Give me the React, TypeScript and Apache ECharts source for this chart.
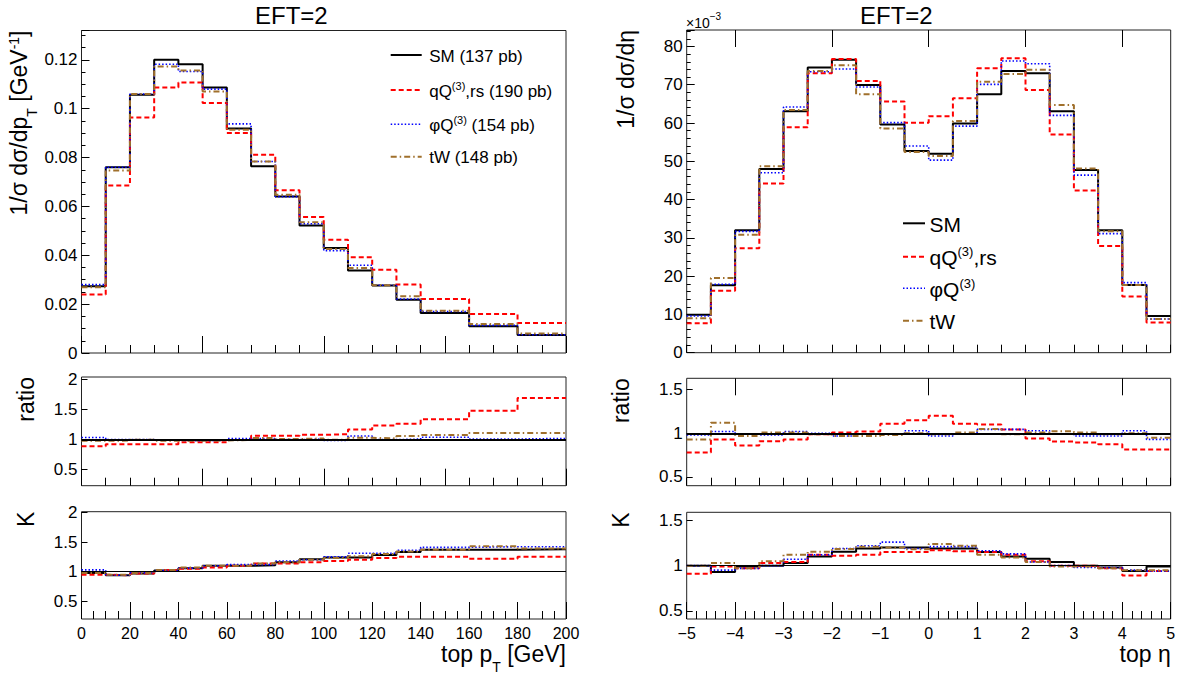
import { useEffect, useRef } from "react";
import * as echarts from "echarts";

// top pT binning (variable width above 140 GeV)
const ptEdges = [0, 10, 20, 30, 40, 50, 60, 70, 80, 90, 100, 110, 120, 130, 140, 160, 180, 200];
const ptSM = [0.0273, 0.076, 0.1057, 0.12, 0.1182, 0.1087, 0.0919, 0.0764, 0.0641, 0.0522, 0.043, 0.0338, 0.0276, 0.0218, 0.0164, 0.0109, 0.0074];
const ptQQ = [0.0239, 0.0686, 0.0964, 0.1087, 0.1107, 0.1023, 0.09, 0.0811, 0.0666, 0.0557, 0.0464, 0.0392, 0.0341, 0.028, 0.0221, 0.016, 0.0123];
const ptPhi = [0.028, 0.076, 0.106, 0.1182, 0.1152, 0.108, 0.0938, 0.0784, 0.064, 0.0529, 0.0419, 0.0359, 0.0277, 0.0221, 0.017, 0.0113, 0.0075];
const ptTW = [0.0269, 0.0747, 0.106, 0.1173, 0.1156, 0.107, 0.0914, 0.0784, 0.0648, 0.0535, 0.0426, 0.0348, 0.0277, 0.0232, 0.0173, 0.0119, 0.008];

const ptRatioQQ = [0.89, 0.925, 0.925, 0.925, 0.955, 0.955, 0.995, 1.065, 1.065, 1.08, 1.09, 1.17, 1.235, 1.265, 1.34, 1.48, 1.69];
const ptRatioPhi = [1.035, 1.0, 1.0, 0.99, 0.98, 0.99, 1.02, 1.02, 1.0, 1.01, 0.985, 1.06, 1.0, 1.01, 1.04, 1.01, 1.02];
const ptRatioTW = [0.98, 0.985, 1.0, 0.98, 0.98, 0.985, 0.995, 1.025, 1.01, 1.02, 1.0, 1.03, 1.02, 1.06, 1.075, 1.11, 1.11];

const ptKSM = [0.98, 0.94, 0.97, 1.02, 1.06, 1.1, 1.1, 1.11, 1.16, 1.21, 1.24, 1.24, 1.28, 1.33, 1.37, 1.37, 1.38];
const ptKQQ = [0.95, 0.94, 0.97, 1.03, 1.05, 1.07, 1.1, 1.14, 1.14, 1.16, 1.18, 1.2, 1.23, 1.25, 1.25, 1.22, 1.25];
const ptKPhi = [1.03, 0.94, 0.98, 1.02, 1.06, 1.1, 1.12, 1.12, 1.18, 1.2, 1.25, 1.31, 1.31, 1.36, 1.41, 1.42, 1.42];
const ptKTW = [0.98, 0.95, 0.98, 1.03, 1.07, 1.1, 1.1, 1.14, 1.16, 1.2, 1.23, 1.26, 1.3, 1.34, 1.37, 1.43, 1.39];

// top eta binning, values of 1/sigma dsigma/deta in units of 1e-3
const etaEdges = [-5, -4.5, -4, -3.5, -3, -2.5, -2, -1.5, -1, -0.5, 0, 0.5, 1, 1.5, 2, 2.5, 3, 3.5, 4, 4.5, 5];
const etaSM = [9.9, 17.6, 32.0, 48.0, 63.1, 74.5, 76.5, 69.9, 59.6, 52.7, 52.0, 59.9, 67.5, 73.6, 73.0, 63.1, 47.7, 32.0, 17.7, 9.6];
const etaQQ = [7.7, 16.2, 27.3, 44.2, 58.9, 73.0, 76.7, 71.0, 65.6, 60.1, 61.8, 66.5, 74.3, 76.9, 68.6, 57.0, 42.4, 27.9, 14.7, 7.9];
const etaPhi = [9.6, 17.9, 31.7, 47.0, 64.2, 73.4, 74.1, 69.4, 60.1, 54.0, 50.3, 59.2, 70.1, 76.2, 75.5, 62.0, 46.4, 31.1, 18.3, 8.8];
const etaTW = [9.0, 19.5, 30.8, 48.7, 63.4, 73.6, 75.1, 67.5, 58.6, 52.4, 51.4, 60.5, 70.8, 72.8, 73.9, 64.7, 48.1, 31.7, 17.7, 8.8];

const etaRatioQQ = [0.78, 0.93, 0.86, 0.91, 0.93, 0.99, 1.01, 1.02, 1.11, 1.15, 1.2, 1.11, 1.1, 1.045, 0.94, 0.905, 0.895, 0.875, 0.815, 0.815];
const etaRatioPhi = [0.98, 1.02, 0.99, 0.98, 1.02, 1.0, 0.97, 0.99, 0.99, 1.03, 0.97, 0.99, 1.045, 1.045, 1.03, 0.99, 0.97, 0.97, 1.03, 0.93];
const etaRatioTW = [0.93, 1.12, 0.97, 1.01, 1.01, 0.99, 0.97, 0.97, 0.98, 1.0, 0.99, 1.01, 1.05, 0.99, 1.01, 1.025, 1.01, 0.99, 1.0, 0.95];

const etaKSM = [1.0, 0.93, 0.99, 1.0, 1.03, 1.1, 1.155, 1.19, 1.2, 1.2, 1.19, 1.19, 1.15, 1.1, 1.075, 1.04, 1.0, 0.98, 0.94, 0.99];
const etaKQQ = [0.91, 0.99, 0.97, 1.03, 1.04, 1.12, 1.11, 1.12, 1.15, 1.15, 1.17, 1.16, 1.15, 1.12, 1.05, 1.0, 1.0, 0.97, 0.89, 0.94];
const etaKPhi = [1.0, 0.95, 0.97, 1.0, 1.07, 1.12, 1.19, 1.22, 1.26, 1.19, 1.21, 1.21, 1.165, 1.13, 1.04, 1.0, 0.98, 0.98, 0.95, 0.94];
const etaKTW = [1.0, 1.03, 0.97, 1.05, 1.12, 1.155, 1.185, 1.21, 1.2, 1.18, 1.24, 1.22, 1.12, 1.09, 1.04, 0.99, 0.99, 0.97, 0.95, 0.95];

const ratioTicks = [0.5, 1, 1.5, 2];
const ratioTicksEta = [0.5, 1, 1.5];
const etaMajorTicks = [-4, -2, 0, 2, 4];

const FONT = "'Liberation Sans', Arial, Helvetica, sans-serif";
const RED = "#ff0000";
const BLUE = "#0000ff";
const BROWN = "#a0702c";

const lineStyles: Record<string, any> = {
  SM: { color: "#000", width: 2, type: "solid" },
  qQ: { color: RED, width: 2, type: [5, 3] },
  phiQ: { color: BLUE, width: 1.6, type: [1.5, 2] },
  tW: { color: BROWN, width: 2, type: [6, 3, 1.5, 3] },
};

// bin contents -> points at bin edges, drawn with step: "end"
function toSteps(edges: number[], vals: number[]) {
  const pts = vals.map((v, i) => [edges[i], v]);
  pts.push([edges[edges.length - 1], vals[vals.length - 1]]);
  return pts;
}

function hist(name: string, edges: number[], vals: number[], axis: number, extra: any = {}) {
  const ls = lineStyles[name];
  return {
    type: "line",
    name,
    step: "end",
    symbol: "none",
    silent: true,
    xAxisIndex: axis,
    yAxisIndex: axis,
    data: toSteps(edges, vals),
    lineStyle: { ...ls },
    itemStyle: { color: ls.color },
    ...extra,
  };
}

const refLine = (width: number) => ({
  silent: true,
  symbol: "none",
  label: { show: false },
  lineStyle: { color: "#000", width, type: "solid" },
  data: [{ yAxis: 1 }],
});

const L = { left: 81.5, width: 484.5 };
const R = { left: 686.7, width: 484 };

const noLabel = { show: false };
const noLine = { show: false, onZero: false };
const tick = (length: number, extra: any = {}) => ({ show: true, inside: true, length, lineStyle: { color: "#000" }, ...extra });
const minor = (splitNumber: number, length: number) => ({ show: true, splitNumber, length, lineStyle: { color: "#000" } });
const yLabel = (extra: any = {}) => ({ fontSize: 17, color: "#000", margin: 4, fontFamily: FONT, ...extra });

const title = { fontSize: 23, fontFamily: FONT, fill: "#000" };
const richTitle = {
  t: { fontSize: 23, lineHeight: 50, fontFamily: FONT },
  sb: { fontSize: 14, verticalAlign: "bottom", padding: [0, 0, 5, 0], fontFamily: FONT },
  sp: { fontSize: 14, verticalAlign: "top", padding: [13, 0, 0, 0], fontFamily: FONT },
};

function legendEntries(x1: number, x2: number, gap: number, ys: number[], texts: string[], size: number) {
  const keys = ["SM", "qQ", "phiQ", "tW"];
  const rich = {
    n: { fontSize: size, lineHeight: size + 4, fontFamily: FONT },
    s: { fontSize: Math.round(size * 0.63), verticalAlign: "top", fontFamily: FONT },
  };
  const els: any[] = [];
  keys.forEach((k, i) => {
    const ls = lineStyles[k];
    els.push({
      type: "line",
      silent: true,
      shape: { x1, y1: ys[i], x2, y2: ys[i] },
      style: { stroke: ls.color, lineWidth: ls.width, lineDash: Array.isArray(ls.type) ? ls.type : null },
    });
    els.push({
      type: "text",
      silent: true,
      x: x2 + gap,
      y: ys[i] + 1,
      style: { text: texts[i], rich, fill: "#000", align: "left", verticalAlign: "middle", fontSize: size, fontFamily: FONT },
    });
  });
  return els;
}

export default function App() {
  const ref = useRef<HTMLDivElement | null>(null);

  useEffect(() => {
    const chart = echarts.init(ref.current!, null, { renderer: "svg" });
    const gridBox = { show: true, borderColor: "#222", borderWidth: 1, backgroundColor: "transparent" };

    const option: any = {
      animation: false,
      backgroundColor: "#fff",
      textStyle: { fontFamily: FONT },
      grid: [
        { ...gridBox, left: L.left, width: L.width, top: 30.5, height: 322.5 },
        { ...gridBox, left: L.left, width: L.width, top: 377, height: 108.7 },
        { ...gridBox, left: L.left, width: L.width, top: 511.7, height: 107.3 },
        { ...gridBox, left: R.left, width: R.width, top: 30, height: 322.7 },
        { ...gridBox, left: R.left, width: R.width, top: 378.3, height: 107.4 },
        { ...gridBox, left: R.left, width: R.width, top: 512.3, height: 106.7 },
      ],
      xAxis: [
        { type: "value", gridIndex: 0, min: 0, max: 200, interval: 50, axisLine: noLine, splitLine: noLabel, axisLabel: noLabel, axisTick: tick(17), minorTick: minor(5, 8) },
        { type: "value", gridIndex: 1, min: 0, max: 200, interval: 50, axisLine: noLine, splitLine: noLabel, axisLabel: noLabel, axisTick: tick(17), minorTick: minor(5, 8) },
        {
          type: "value", gridIndex: 2, min: 0, max: 200, interval: 20, axisLine: noLine, splitLine: noLabel,
          axisLabel: { fontSize: 16, color: "#000", margin: 6, fontFamily: FONT },
          axisTick: tick(17), minorTick: minor(4, 8),
        },
        { type: "value", gridIndex: 3, min: -5, max: 5, interval: 0.5, axisLine: noLine, splitLine: noLabel, axisLabel: noLabel, axisTick: tick(8) },
        { type: "value", gridIndex: 4, min: -5, max: 5, interval: 0.5, axisLine: noLine, splitLine: noLabel, axisLabel: noLabel, axisTick: tick(8) },
        {
          type: "value", gridIndex: 5, min: -5, max: 5, interval: 1, axisLine: noLine, splitLine: noLabel,
          axisLabel: { fontSize: 16, color: "#000", margin: 6, fontFamily: FONT, formatter: (v: number) => String(v).replace("-", "\u2212") },
          axisTick: tick(17), minorTick: minor(5, 8),
        },
        // long ticks at -4, -2, 0, 2, 4 on the upper eta panels
        { type: "value", gridIndex: 3, min: -5, max: 5, axisLine: noLine, splitLine: noLabel, axisLabel: noLabel, axisTick: tick(17, { customValues: etaMajorTicks }) },
        { type: "value", gridIndex: 4, min: -5, max: 5, axisLine: noLine, splitLine: noLabel, axisLabel: noLabel, axisTick: tick(17, { customValues: etaMajorTicks }) },
      ],
      yAxis: [
        { type: "value", gridIndex: 0, min: 0, max: 0.132, interval: 0.02, axisLine: noLine, splitLine: noLabel, axisTick: tick(8), minorTick: minor(4, 4), axisLabel: yLabel({ showMaxLabel: false }) },
        { type: "value", gridIndex: 1, min: 0.235, max: 2.04, axisLine: noLine, splitLine: noLabel, axisTick: tick(6, { customValues: ratioTicks }), axisLabel: yLabel({ customValues: ratioTicks }) },
        { type: "value", gridIndex: 2, min: 0.204, max: 2.01, axisLine: noLine, splitLine: noLabel, axisTick: tick(6, { customValues: ratioTicks }), axisLabel: yLabel({ customValues: ratioTicks }) },
        { type: "value", gridIndex: 3, min: 0, max: 84.3, interval: 10, axisLine: noLine, splitLine: noLabel, axisTick: tick(8), minorTick: minor(5, 4), axisLabel: yLabel({ showMaxLabel: false }) },
        { type: "value", gridIndex: 4, min: 0.4, max: 1.63, axisLine: noLine, splitLine: noLabel, axisTick: tick(6, { customValues: ratioTicksEta }), axisLabel: yLabel({ customValues: ratioTicksEta }) },
        { type: "value", gridIndex: 5, min: 0.41, max: 1.59, axisLine: noLine, splitLine: noLabel, axisTick: tick(6, { customValues: ratioTicksEta }), axisLabel: yLabel({ customValues: ratioTicksEta }) },
      ],
      series: [
        hist("SM", ptEdges, ptSM, 0),
        hist("qQ", ptEdges, ptQQ, 0),
        hist("phiQ", ptEdges, ptPhi, 0),
        hist("tW", ptEdges, ptTW, 0),

        hist("qQ", ptEdges, ptRatioQQ, 1, { markLine: refLine(2) }),
        hist("phiQ", ptEdges, ptRatioPhi, 1),
        hist("tW", ptEdges, ptRatioTW, 1),

        hist("SM", ptEdges, ptKSM, 2, { markLine: refLine(1) }),
        hist("qQ", ptEdges, ptKQQ, 2),
        hist("phiQ", ptEdges, ptKPhi, 2),
        hist("tW", ptEdges, ptKTW, 2),

        hist("SM", etaEdges, etaSM, 3),
        hist("qQ", etaEdges, etaQQ, 3),
        hist("phiQ", etaEdges, etaPhi, 3),
        hist("tW", etaEdges, etaTW, 3),

        hist("qQ", etaEdges, etaRatioQQ, 4, { markLine: refLine(2) }),
        hist("phiQ", etaEdges, etaRatioPhi, 4),
        hist("tW", etaEdges, etaRatioTW, 4),

        hist("SM", etaEdges, etaKSM, 5, { markLine: refLine(1) }),
        hist("qQ", etaEdges, etaKQQ, 5),
        hist("phiQ", etaEdges, etaKPhi, 5),
        hist("tW", etaEdges, etaKTW, 5),
      ],
      graphic: [
        { type: "text", silent: true, x: 255, y: 15, style: { ...title, fontSize: 24, text: "EFT=2", align: "left", verticalAlign: "middle" } },
        { type: "text", silent: true, x: 860, y: 15, style: { ...title, fontSize: 24, text: "EFT=2", align: "left", verticalAlign: "middle" } },
        {
          type: "text", silent: true, x: 686, y: 22.5,
          style: {
            text: "{n|\u00d710}{s|\u22123}", fill: "#000", align: "left", verticalAlign: "middle",
            rich: { n: { fontSize: 14, lineHeight: 24, fontFamily: FONT }, s: { fontSize: 10, verticalAlign: "top", padding: [1, 0, 0, 0], fontFamily: FONT } },
          },
        },
        {
          type: "text", silent: true, x: 18.5, y: 30.5, rotation: Math.PI / 2,
          style: { ...title, text: "{t|1/\u03c3 d\u03c3/dp}{sb|T}{t| [GeV}{sp|-1}{t|]}", rich: richTitle, align: "right", verticalAlign: "middle" },
        },
        { type: "text", silent: true, x: 25.5, y: 377, rotation: Math.PI / 2, style: { ...title, text: "ratio", align: "right", verticalAlign: "middle" } },
        { type: "text", silent: true, x: 25.5, y: 511.7, rotation: Math.PI / 2, style: { ...title, text: "K", align: "right", verticalAlign: "middle" } },
        { type: "text", silent: true, x: 625.5, y: 30, rotation: Math.PI / 2, style: { ...title, text: "1/\u03c3 d\u03c3/d\u03b7", align: "right", verticalAlign: "middle" } },
        { type: "text", silent: true, x: 621, y: 378.3, rotation: Math.PI / 2, style: { ...title, text: "ratio", align: "right", verticalAlign: "middle" } },
        { type: "text", silent: true, x: 621, y: 512.3, rotation: Math.PI / 2, style: { ...title, text: "K", align: "right", verticalAlign: "middle" } },
        {
          type: "text", silent: true, x: 566, y: 653.7,
          style: { ...title, text: "{t|top p}{sb|T}{t| [GeV]}", rich: richTitle, align: "right", verticalAlign: "middle" },
        },
        { type: "text", silent: true, x: 1170.7, y: 653.7, style: { ...title, text: "top \u03b7", align: "right", verticalAlign: "middle" } },
        ...legendEntries(390.7, 421.7, 7.5, [55, 90, 124.3, 156.7], [
          "{n|SM (137 pb)}",
          "{n|qQ}{s|(3)}{n|,rs (190 pb)}",
          "{n|\u03c6Q}{s|(3)}{n| (154 pb)}",
          "{n|tW (148 pb)}",
        ], 17),
        ...legendEntries(903, 925, 4.5, [223.3, 256.7, 288.3, 320.7], [
          "{n|SM}",
          "{n|qQ}{s|(3)}{n|,rs}",
          "{n|\u03c6Q}{s|(3)}",
          "{n|tW}",
        ], 21),
      ],
    };

    chart.setOption(option);
    return () => chart.dispose();
  }, []);

  return (
    <div
      ref={ref}
      style={{ position: "fixed", left: 0, top: 0, width: 1182, height: 679, background: "#fff" }}
    />
  );
}
